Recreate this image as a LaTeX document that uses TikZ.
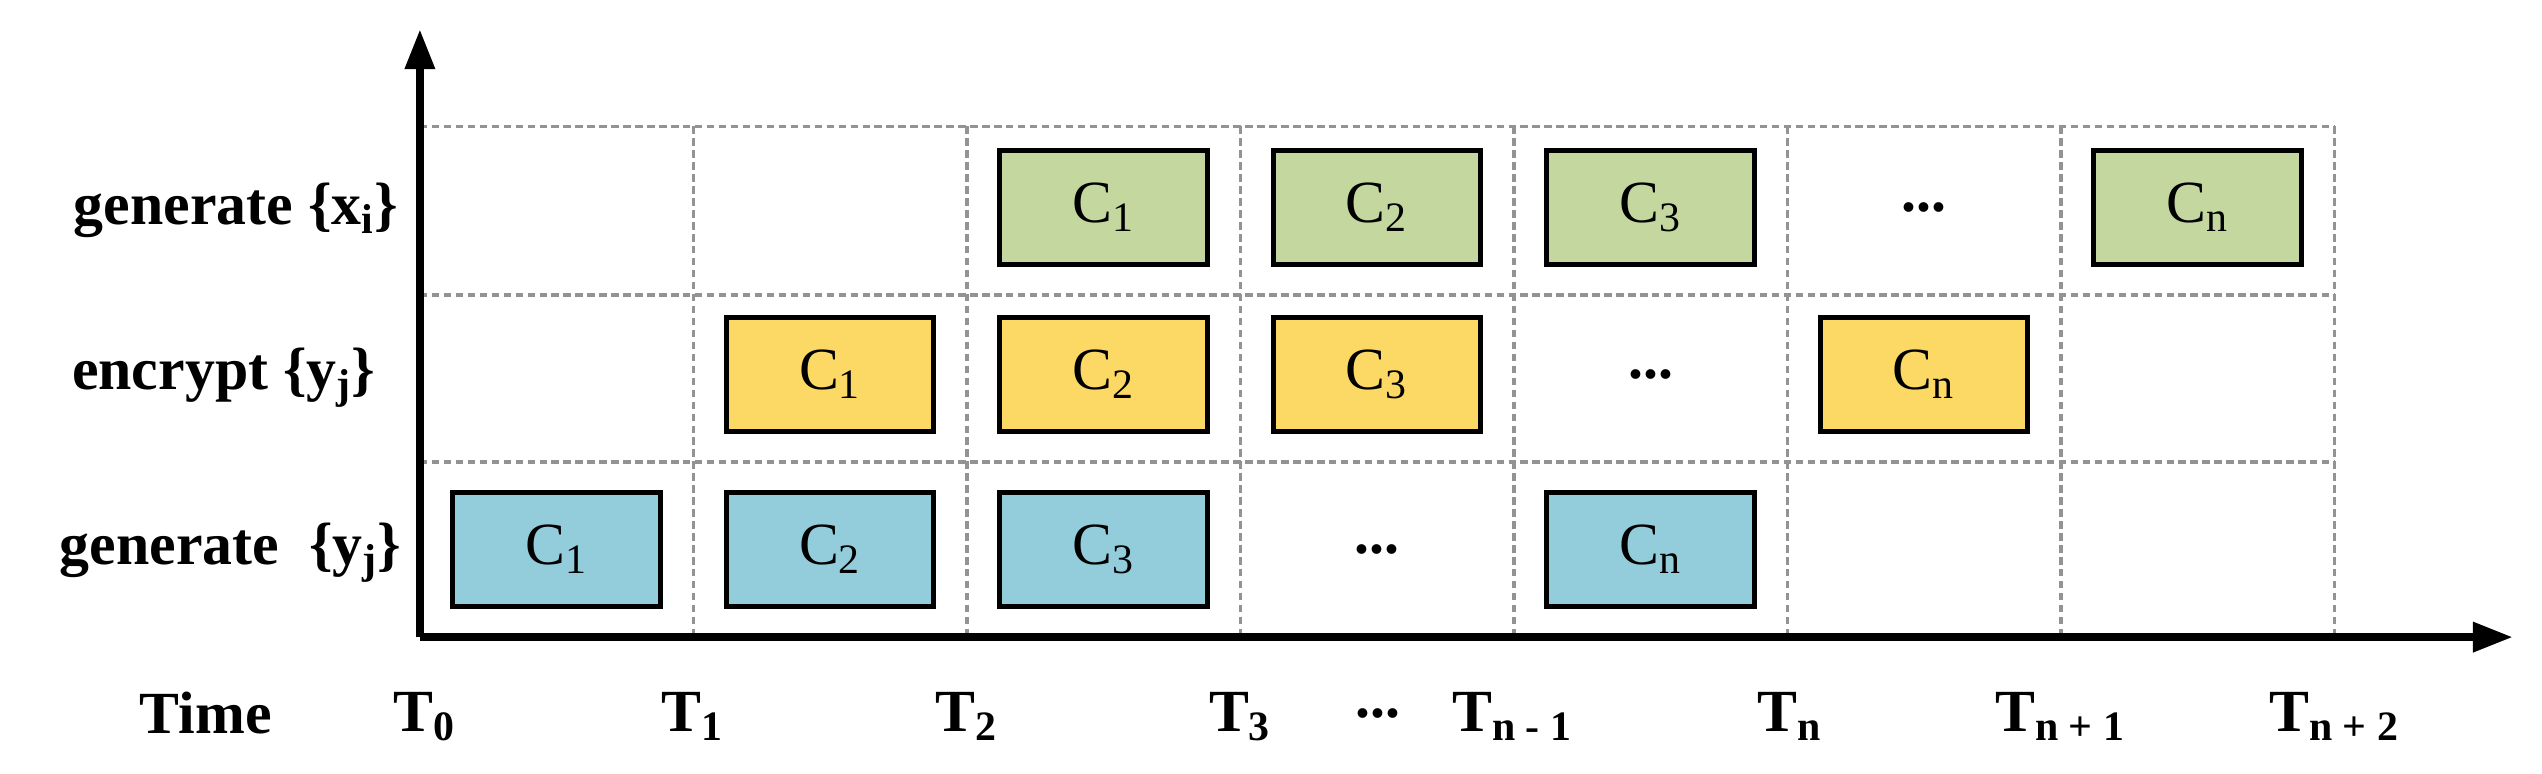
\documentclass[tikz,border=0pt]{standalone}
\usepackage{fontspec}
\setmainfont{Liberation Serif}
\usetikzlibrary{arrows.meta}
\definecolor{gr}{HTML}{C4D79F}
\definecolor{ye}{HTML}{FCD965}
\definecolor{bl}{HTML}{93CDDC}
\begin{document}
\begin{tikzpicture}[x=0.02cm,y=-0.02cm,
 grid/.style={draw=gray!85,line width=1.2pt,dash pattern=on 2.6pt off 1.6pt},
 box/.style={draw=black,line width=1.8pt,minimum width=128*0.02cm,minimum height=70*0.02cm,inner sep=0pt,font=\fontsize{21}{24}\selectfont},
 lab/.style={font=\bfseries\fontsize{21}{24}\selectfont,anchor=east,inner sep=0pt},
 tl/.style={font=\bfseries\fontsize{21}{24}\selectfont,inner sep=0pt}]
\useasboundingbox (0,0) rectangle (1568,477);
\def\cw{168.7}
% grid
\foreach \yy in {78,182,285} \draw[grid] (259,\yy) -- (1440,\yy);
\foreach \i in {1,...,7} \draw[grid] (259+\i*\cw,78) -- (259+\i*\cw,393);
% axes
\coordinate (o) at (259,393);
\coordinate (ya) at (259,18);
\coordinate (xa) at (1550,393);
\draw[line width=2.8pt,-{Triangle[length=14pt,width=10pt]}] (o) -- (ya);
\draw[line width=2.8pt,-{Triangle[length=14pt,width=10pt]}] (o) -- (xa);
% rows
\foreach \c/\t [count=\k] in {2/C\textsubscript{1},3/C\textsubscript{2},4/C\textsubscript{3},6/C\textsubscript{n}}
  \node[box,fill=gr] (g\k) at (259+\c*\cw+\cw/2,128) {\t};
\node[font=\bfseries\fontsize{21}{24}\selectfont] (gd) at (259+5*\cw+\cw/2,128) {...};
\foreach \c/\t [count=\k] in {1/C\textsubscript{1},2/C\textsubscript{2},3/C\textsubscript{3},5/C\textsubscript{n}}
  \node[box,fill=ye] (e\k) at (259+\c*\cw+\cw/2,231) {\t};
\node[font=\bfseries\fontsize{21}{24}\selectfont] (ed) at (259+4*\cw+\cw/2,231) {...};
\foreach \c/\t [count=\k] in {0/C\textsubscript{1},1/C\textsubscript{2},2/C\textsubscript{3},4/C\textsubscript{n}}
  \node[box,fill=bl] (b\k) at (259+\c*\cw+\cw/2,339) {\t};
\node[font=\bfseries\fontsize{21}{24}\selectfont] (bd) at (259+3*\cw+\cw/2,339) {...};
% row labels
\node[lab] (l1) at (246,130) {generate \{x\textsubscript{i}\}};
\node[lab] (l2) at (232,233) {encrypt \{y\textsubscript{j}\}};
\node[lab] (l3) at (248,341) {generate\ \ \{y\textsubscript{j}\}};
% time labels
\node[tl] (tm) at (127,440) {Time};
\node[tl] (t0) at (262,442) {T\textsubscript{0}};
\node[tl] (t1) at (427,442) {T\textsubscript{1}};
\node[tl] (t2) at (596,442) {T\textsubscript{2}};
\node[tl] (t3) at (765,442) {T\textsubscript{3}};
\node[tl] (td) at (850,440) {...};
\node[tl] (t4) at (933,442) {T\textsubscript{n - 1}};
\node[tl] (t5) at (1104,442) {T\textsubscript{n}};
\node[tl] (t6) at (1271,442) {T\textsubscript{n + 1}};
\node[tl] (t7) at (1440,442) {T\textsubscript{n + 2}};
\end{tikzpicture}
\end{document}
